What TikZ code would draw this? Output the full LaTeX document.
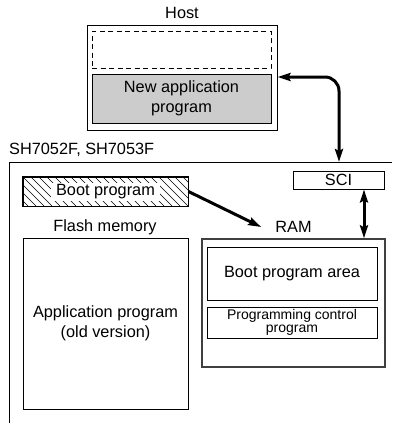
\documentclass[tikz,border=0pt]{standalone}
\usepackage{fontspec}
\setmainfont{Liberation Sans}
\usetikzlibrary{arrows.meta}
\begin{document}
\begin{tikzpicture}[x=1pt,y=-1pt,
  box/.style={draw, line width=0.9pt, inner sep=0pt, align=center},
  lbl/.style={font=\fontsize{16.3}{20}\selectfont, align=center, inner sep=0pt},
  small/.style={font=\fontsize{14}{13}\selectfont, align=center, inner sep=0pt},
  tip/.style={Stealth[length=13pt,width=8pt,inset=2pt]},
  big/.style={line width=3pt, -{Stealth[length=13pt,width=8pt,inset=2pt]}},
  dbl/.style={line width=3pt, {Stealth[length=13pt,width=8pt,inset=2pt]}-{Stealth[length=13pt,width=8pt,inset=2pt]}},
]
\useasboundingbox (0,0) rectangle (392,423);

% Host
\node[lbl] (hostlbl) at (182,13) {Host};
\node[box, minimum width=190pt, minimum height=105pt] (host) at (182,77.5) {};
\node[box, dash pattern=on 5pt off 3.5pt, minimum width=179pt, minimum height=37pt] (free) at (181.5,49.5) {};
\node[box, lbl, fill=gray!40, minimum width=179pt, minimum height=49pt] (newapp) at (181.5,98.5) {New application\\program};

% Chip outline
\node[lbl, anchor=west] (chiplbl) at (9,150) {SH7052F, SH7053F};
\coordinate (chipTL) at (9,162);
\coordinate (chipTR) at (392,162);
\coordinate (chipBL) at (9,423);
\draw[line width=0.9pt] (chipTR) -- (chipTL) -- (chipBL);

% SCI
\node[box, lbl, minimum width=91pt, minimum height=18pt] (sci) at (338.5,180) {SCI};

% Host <-> chip arrow
\coordinate (hostin) at (277.5,77);
\coordinate (chiptop) at (339,162);
\draw[dbl, rounded corners=14pt] (hostin) -| (chiptop);

% Boot program (hatched)
\node[box, minimum width=165pt, minimum height=29pt] (boot) at (105.5,191.5) {};
\begin{scope}
  \clip (boot.south west) rectangle (boot.north east);
  \foreach \i in {-32,-24,...,170} {
    \draw[line width=0.6pt] (23+\i,177) -- ++(29,29);
  }
\end{scope}
\draw[line width=0.9pt] (boot.south west) rectangle (boot.north east);
\node[lbl, fill=white, inner xsep=5pt, inner ysep=1pt, text height=12pt, text depth=4pt] (boottxt) at (boot) {Boot program};

% Flash memory
\node[lbl] (flashlbl) at (105,227) {Flash memory};
\node[box, lbl, minimum width=165pt, minimum height=171pt] (flash) at (105.5,323.5) {Application program\\(old version)};

% RAM
\node[lbl] (ramlbl) at (293.5,227) {RAM};
\node[draw=black!75, line width=1.4pt, minimum width=183pt, minimum height=128pt, inner sep=0pt] (ram) at (293.5,303) {};
\node[box, lbl, minimum width=170pt, minimum height=53pt] (bootarea) at (292,273.5) {Boot program area};
\node[box, small, minimum width=170pt, minimum height=31pt] (progctl) at (292,322.5) {Programming control\\program};

% Arrows inside chip
\draw[big] (boot.east) -- ([xshift=-14pt]ramlbl.west);
\draw[dbl] ([xshift=25.5pt]sci.south) -- ([xshift=25.5pt]sci.south |- ram.north);
\end{tikzpicture}
\end{document}
